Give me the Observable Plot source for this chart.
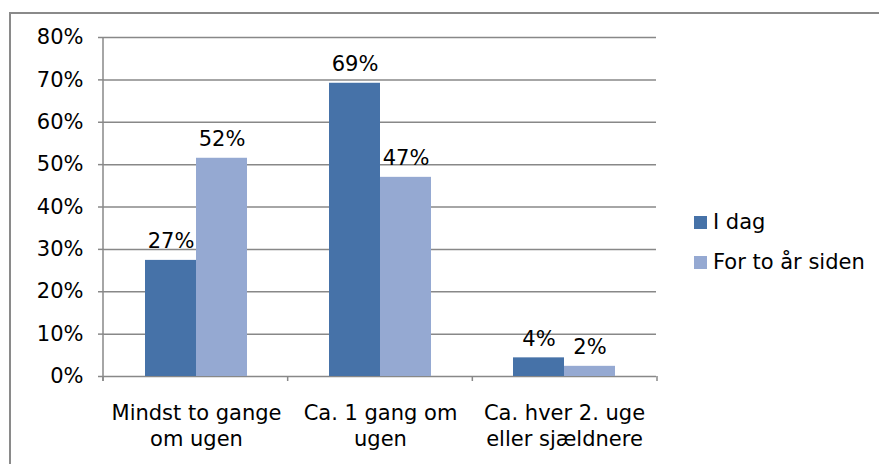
<!DOCTYPE html>
<html>
<head>
<meta charset="utf-8">
<script src="https://cdn.jsdelivr.net/npm/d3@7"></script>
<script src="https://cdn.jsdelivr.net/npm/@observablehq/plot@0.6"></script>
<style>
  body { margin: 0; background: #fff; }
  #wrap { position: relative; width: 879px; height: 464px; overflow: hidden;
          font-family: "DejaVu Sans", Verdana, sans-serif; color: #000; }
  #border { position: absolute; left: 9px; top: 12px; width: 1000px; height: 1000px;
            border: 2px solid #8a8a8a; box-sizing: border-box; }
  #chart { position: absolute; left: 0; top: 0; }
  #legend { position: absolute; left: 694px; top: 202px; font-size: 21px; }
  .item { display: flex; align-items: center; height: 40px; white-space: nowrap; }
  .sw { width: 13px; height: 13px; margin-right: 6px; }
</style>
</head>
<body>
<div id="wrap">
  <div id="border"></div>
  <div id="chart"></div>
  <div id="legend"></div>
</div>
<script>
const categories = ["Mindst to gange om ugen", "Ca. 1 gang om ugen", "Ca. hver 2. uge eller sjældnere"];
const categoryLabels = ["Mindst to gange\nom ugen", "Ca. 1 gang om\nugen", "Ca. hver 2. uge\neller sjældnere"];
const series = ["I dag", "For to år siden"];
const iDag = [27.4, 69.2, 4.4];
const forToAarSiden = [51.5, 47.0, 2.4];
const yTicks = [0, 10, 20, 30, 40, 50, 60, 70, 80];
const colors = ["#4672A8", "#95A9D2"];

const rows = [];
categories.forEach((c, i) => {
  rows.push({cat: c, series: series[0], value: iDag[i]});
  rows.push({cat: c, series: series[1], value: forToAarSiden[i]});
});

const font = "'DejaVu Sans', Verdana, sans-serif";
const gridColor = "#888888";

const chart = Plot.plot({
  width: 879,
  height: 464,
  marginLeft: 103,
  marginRight: 222,
  marginTop: 37,
  marginBottom: 88,
  style: {fontFamily: font, fontSize: "21px", color: "#000", background: "transparent"},
  fx: {domain: categories, paddingInner: 0, paddingOuter: 0, label: null},
  x: {domain: series, paddingInner: 0, paddingOuter: 0.776, axis: null},
  y: {domain: [0, 80], label: null},
  color: {domain: series, range: colors},
  marks: [
    Plot.gridY(yTicks, {stroke: gridColor, strokeOpacity: 1, strokeWidth: 1.5}),
    Plot.barY(rows, {fx: "cat", x: "series", y: "value", fill: "series"}),
    Plot.text(rows, {fx: "cat", x: "series", y: "value", text: d => Math.round(d.value) + "%",
      lineAnchor: "bottom", dy: -12, fontSize: 21, fill: "#000"}),
    Plot.axisY(yTicks, {tickSize: 6, tickPadding: 15, tickFormat: d => d + "%",
      fontSize: 21, stroke: gridColor, strokeWidth: 1.5, fill: "#000", label: null}),
    Plot.axisFx({anchor: "bottom", tickSize: 0, tickPadding: 25, lineHeight: 1.24,
      fontSize: 21, fill: "#000", label: null,
      tickFormat: d => categoryLabels[categories.indexOf(d)]})
  ]
});
document.getElementById("chart").appendChild(chart);

// axis line at the left and category boundary ticks, positioned from the plot's scales
const fxs = chart.scale("fx");
const ys = chart.scale("y");
const band = d3.scaleBand(fxs.domain, fxs.range).paddingInner(0).paddingOuter(0);
const y0 = ys.range[0], yTop = ys.range[1];
const svg = d3.select(chart);
const g = svg.append("g").attr("stroke", gridColor).attr("stroke-width", 1.5);
g.append("line").attr("x1", band.range()[0]).attr("x2", band.range()[0])
  .attr("y1", yTop).attr("y2", y0 + 5);
for (let i = 0; i <= categories.length; i++) {
  const x = band.range()[0] + i * band.step();
  g.append("line").attr("x1", x).attr("x2", x).attr("y1", y0).attr("y2", y0 + 5);
}

const legend = d3.select("#legend");
series.forEach((s, i) => {
  const it = legend.append("div").attr("class", "item");
  it.append("div").attr("class", "sw").style("background", colors[i]);
  it.append("span").text(s);
});
</script>
</body>
</html>
